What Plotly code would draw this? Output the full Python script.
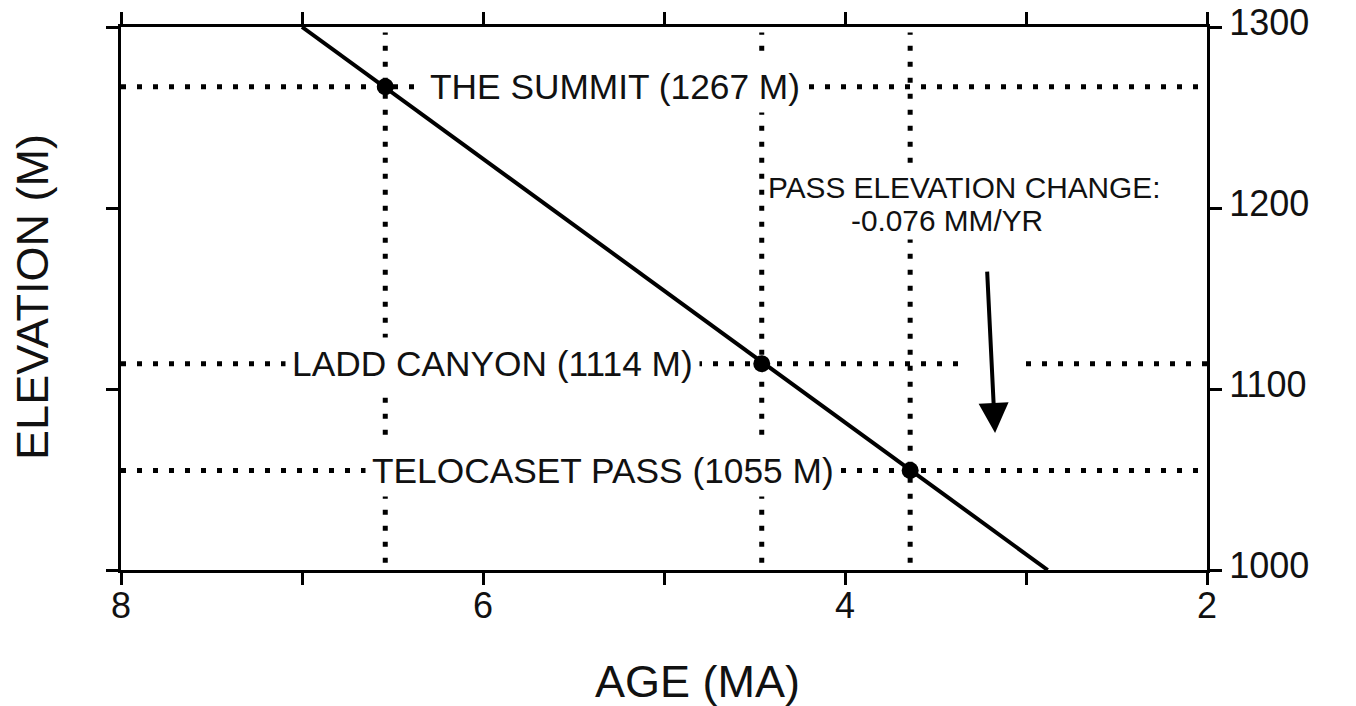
import plotly.graph_objects as go

# ---- data ----
trend_age = [7.0, 2.88]
trend_elev = [1300, 1000]

site_names = ["THE SUMMIT", "LADD CANYON", "TELOCASET PASS"]
site_age = [6.54, 4.46, 3.64]
site_elev = [1267, 1114, 1055]

x_ticks = [8, 7, 6, 5, 4, 3, 2]
x_ticktext = ["8", "", "6", "", "4", "", "2"]
y_ticks = [1000, 1100, 1200, 1300]
y_ticktext = ["1000", "1100", "1200", "1300"]

rate_text = ["PASS ELEVATION CHANGE:", "-0.076 MM/YR"]

X_RANGE = [8, 2]
Y_RANGE = [1000, 1300]

FONT = "Liberation Sans, Arial, Helvetica, sans-serif"
INK = "#111111"
DOT = dict(color="black", width=5, dash="5px,11px")

fig = go.Figure()

# horizontal dotted reference lines
for i, e in enumerate(site_elev):
    if i == 1:
        xs = [X_RANGE[0], 3.36, None, 3.0, X_RANGE[1]]
        ys = [e, e, None, e, e]
    else:
        xs = [X_RANGE[0], X_RANGE[1]]
        ys = [e, e]
    fig.add_trace(go.Scatter(x=xs, y=ys, mode="lines", line=DOT,
                             hoverinfo="skip", showlegend=False, connectgaps=False))

# vertical dotted reference lines
for a in site_age:
    fig.add_trace(go.Scatter(x=[a, a], y=[Y_RANGE[0] + 4, Y_RANGE[1] - 3], mode="lines",
                             line=DOT, hoverinfo="skip", showlegend=False))

# trend line
fig.add_trace(go.Scatter(x=trend_age, y=trend_elev, mode="lines",
                         line=dict(color="black", width=4),
                         hoverinfo="skip", showlegend=False))

# site points
fig.add_trace(go.Scatter(x=site_age, y=site_elev, mode="markers",
                         marker=dict(color="black", size=17),
                         hoverinfo="skip", showlegend=False))

# site labels (white background masks the dotted lines)
label_left_age = [6.334, 7.093, 6.653]
for name, a, e, lx in zip(site_names, site_age, site_elev, label_left_age):
    fig.add_annotation(x=lx, y=e, xref="x", yref="y",
                       text=f"{name} ({e} M)", showarrow=False,
                       xanchor="left", yanchor="middle",
                       bgcolor="white", borderpad=6,
                       font=dict(family=FONT, size=35.3, color=INK))

# rate text
fig.add_annotation(x=3.34, y=1211.5, xref="x", yref="y", text=rate_text[0],
                   showarrow=False, xanchor="center", yanchor="middle",
                   bgcolor="white", borderpad=2,
                   font=dict(family=FONT, size=29.8, color=INK))
fig.add_annotation(x=3.436, y=1193.0, xref="x", yref="y", text=rate_text[1],
                   showarrow=False, xanchor="center", yanchor="middle",
                   bgcolor="white", borderpad=2,
                   font=dict(family=FONT, size=29.8, color=INK))

# arrow
fig.add_annotation(x=3.171, y=1075.7, ax=3.215, ay=1165.7,
                   xref="x", yref="y", axref="x", ayref="y",
                   text="", showarrow=True, arrowhead=2, arrowsize=1.5,
                   arrowwidth=4, arrowcolor="black")

# axis titles
fig.add_annotation(x=0.531, y=-0.206, xref="paper", yref="paper",
                   text="AGE (MA)", showarrow=False,
                   xanchor="center", yanchor="middle",
                   font=dict(family=FONT, size=45, color=INK))
fig.add_annotation(x=-0.081, y=0.503, xref="paper", yref="paper",
                   text="ELEVATION (M)", showarrow=False, textangle=-90,
                   xanchor="center", yanchor="middle",
                   font=dict(family=FONT, size=45, color=INK))

fig.update_layout(
    width=1356, height=706,
    margin=dict(l=121, r=149, t=27, b=136, autoexpand=False),
    paper_bgcolor="white", plot_bgcolor="white",
    showlegend=False,
    xaxis=dict(range=X_RANGE, tickvals=x_ticks, ticktext=x_ticktext,
               showgrid=False, zeroline=False, showline=True,
               linecolor="black", linewidth=3, mirror="ticks",
               ticks="outside", ticklen=12, tickwidth=3, tickcolor="black",
               ticklabelstandoff=-10, automargin=False,
               tickfont=dict(family=FONT, size=36, color=INK)),
    yaxis=dict(range=Y_RANGE, tickvals=y_ticks, ticktext=y_ticktext, side="right",
               showgrid=False, zeroline=False, showline=True,
               linecolor="black", linewidth=3, mirror="ticks",
               ticks="outside", ticklen=12, tickwidth=3, tickcolor="black",
               ticklabelshift=-5, automargin=False,
               tickfont=dict(family=FONT, size=36, color=INK)),
)

fig.write_html("out.html")
